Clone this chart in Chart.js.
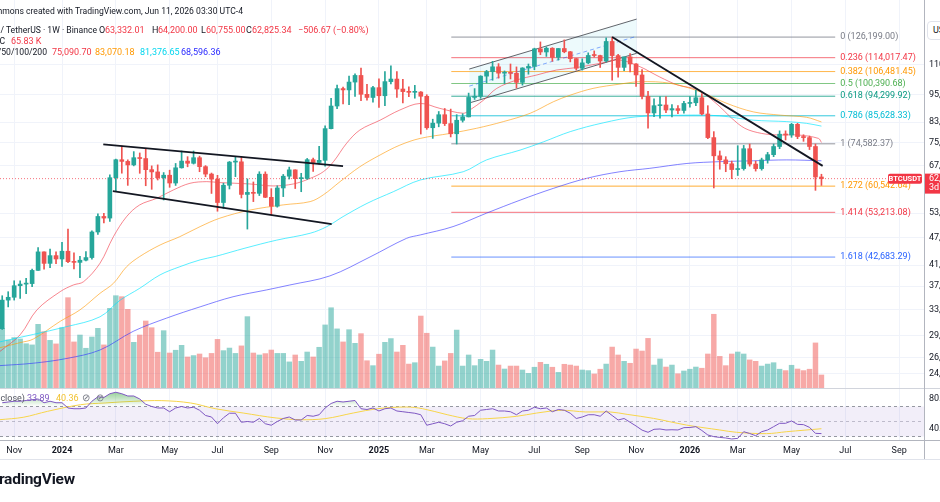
<!DOCTYPE html>
<html lang="en">
<head>
<meta charset="utf-8">
<title>BTCUSDT 1W</title>
<script src="https://cdn.jsdelivr.net/npm/chart.js@4.4.1/dist/chart.umd.min.js"></script>
<style>
html, body { margin: 0; padding: 0; background: #ffffff; }
#page { position: relative; width: 940px; height: 502px; overflow: hidden; font-family: Roboto, "Noto Sans", sans-serif; }
canvas { position: absolute; left: 0; }
#priceChart { top: 0; }
#rsiChart { top: 388px; }
.t { position: absolute; font-size: 9px; line-height: 11px; white-space: nowrap; color: #131722; }
.r { text-align: right; font-size: 8.6px; }
.red { color: #f23645; }
.logo { position: absolute; left: -10px; top: 470px; font-size: 15.5px; font-weight: bold; color: #131722; letter-spacing: -0.2px; }
.cur { position: absolute; left: 927px; top: 21px; width: 30px; height: 17px; border: 1px solid #e0e3eb; border-radius: 4px; font-size: 9px; line-height: 17px; padding-left: 5px; color: #131722; background: #fff; }
</style>
</head>
<body>
<div id="page">
  <canvas id="priceChart" width="940" height="388"></canvas>
  <canvas id="rsiChart" width="940" height="72"></canvas>

  <div class="t r" style="right:697px;top:6px">Commons created with TradingView.com, Jun 11, 2026 03:30 UTC-4</div>

  <div class="t r" style="right:843px;top:25px">Bitcoin / TetherUS · 1W · Binance</div>
  <div class="t" style="left:99px;top:25px">O</div><div class="t red" style="left:105px;top:25px">63,332.01</div>
  <div class="t" style="left:152px;top:25px">H</div><div class="t red" style="left:158px;top:25px">64,200.00</div>
  <div class="t" style="left:201px;top:25px">L</div><div class="t red" style="left:206px;top:25px">60,755.00</div>
  <div class="t" style="left:246px;top:25px">C</div><div class="t red" style="left:252px;top:25px">62,825.34</div>
  <div class="t red" style="left:298px;top:25px">−506.67 (−0.80%)</div>

  <div class="t r" style="right:935px;top:36px">BTC</div><div class="t red" style="left:11px;top:36px">65.83 K</div>

  <div class="t r" style="right:893px;top:47px">EMA 20/50/100/200</div>
  <div class="t" style="left:52px;top:47px;color:#f23645">75,090.70</div>
  <div class="t" style="left:95px;top:47px;color:#ff9800">83,070.18</div>
  <div class="t" style="left:140px;top:47px;color:#00d5ee">81,376.65</div>
  <div class="t" style="left:181px;top:47px;color:#2a2aff">68,596.36</div>

  <div class="cur">USDT</div>

  <div class="t r" style="right:915px;top:393px;color:#50535e;font-size:9px">RSI 14 close)</div>
  <div class="t" style="left:27px;top:393px;color:#7e57c2">33.89</div>
  <div class="t" style="left:56px;top:393px;color:#f2c230">40.36</div>
  <div class="t" style="left:82px;top:392px;color:#787b86;font-size:10px">⊘</div>
  <div class="t" style="left:96px;top:392px;color:#787b86;font-size:10px">⊘</div>

  <div class="logo">TradingView</div>
</div>

<script>
/* =========================
   DATA  (weekly BTC/USDT, Binance)
   week numbers count from the week of Jan 1, 2024
========================= */

const firstWeek = -10;   // week of Oct 23, 2023

const opens = [
    29992, 34525, 35011, 37065, 37360, 37455, 39970, 43790, 41375, 42990,
    42285, 43930, 41730, 41580, 42030, 42580, 48300, 52140, 51730, 63110,
    68960, 68390, 67210, 69650, 69360, 65660, 64940, 63100, 63890, 61480,
    66270, 68500, 67760, 69650, 66650, 64250, 62680, 55850, 60800, 68160,
    68250, 58120, 58710, 58430, 64220, 57300, 54840, 60000, 63580, 65600,
    62820, 62870, 68970, 68020, 68750, 80370, 89850, 97900, 97280, 101110,
    104460, 95190, 93720, 98360, 94520, 101330, 102620, 97700, 96460, 96120,
    96250, 94270, 80730, 82580, 86080, 82390, 78370, 83760, 85170, 93740,
    94280, 104100, 106450, 109000, 105640, 105730, 105560, 100960, 108370, 109200,
    119090, 117270, 119450, 114200, 119290, 117400, 113490, 108240, 111140, 115270,
    115230, 112160, 123500, 115200, 108700, 114500, 110550, 104720, 94260, 86830,
    90000, 90300, 88100, 88700, 87900, 91000, 91300, 93600, 86400, 76900,
    70300, 68900, 67600, 65700, 66000, 72800, 67500, 66000, 68900, 70700,
    73600, 78200, 77900, 82100, 77300, 76900, 73600, 63332.01
];

const highs = [
    35280, 35985, 37980, 37980, 38450, 40250, 44700, 43800, 44400, 43800,
    45900, 48970, 43580, 42850, 43880, 48600, 52820, 52980, 64000, 69170,
    73780, 68920, 71770, 71300, 72800, 66900, 67230, 64730, 65500, 67700,
    71980, 70000, 71980, 70200, 66990, 64580, 63860, 61420, 68370, 70000,
    70080, 62750, 61800, 65000, 64960, 59800, 60650, 64130, 66500, 65620,
    64500, 69400, 69520, 73620, 81500, 93270, 99590, 98700, 104090, 105250,
    108350, 99960, 98980, 102720, 106420, 109590, 106460, 102500, 98820, 99480,
    96500, 95000, 84200, 87450, 88770, 88500, 86100, 86500, 95760, 97900,
    104320, 107100, 111980, 110720, 106800, 110530, 108950, 108530, 110530, 119490,
    123220, 120250, 119800, 119300, 124470, 117600, 113600, 113380, 116770, 117900,
    115450, 125700, 126200, 115970, 114000, 116400, 110800, 107500, 96600, 93100,
    94100, 94100, 90500, 90000, 91900, 94100, 97200, 95500, 90000, 79200,
    72000, 70000, 68500, 73900, 74000, 74500, 68500, 69500, 71500, 74500,
    79500, 79500, 82500, 82500, 78000, 77500, 74500, 64200
];

const lows = [
    29880, 33390, 34530, 34800, 35630, 36870, 39970, 40220, 40525, 41300,
    40750, 41500, 40280, 38550, 41880, 42250, 47700, 50520, 50900, 59000,
    64530, 60770, 66900, 64500, 60660, 59600, 62400, 56550, 60190, 60750,
    66150, 66600, 67500, 65000, 63400, 58400, 53500, 54260, 59700, 63450,
    57120, 49000, 56100, 57800, 57200, 52550, 54580, 57500, 62700, 59830,
    58900, 62600, 65060, 67480, 66840, 80220, 88700, 90790, 90500, 94150,
    92230, 92500, 91530, 89260, 89950, 100150, 93700, 91230, 94090, 93380,
    78260, 80100, 76600, 81100, 81600, 77150, 74500, 83000, 85140, 92800,
    93330, 100720, 102000, 103070, 100370, 102660, 98200, 99600, 105100, 107450,
    115740, 114720, 112000, 112650, 116800, 111680, 107250, 107270, 110620, 114380,
    108650, 111570, 102000, 103530, 106900, 106300, 98950, 93000, 80600, 85300,
    84600, 87000, 85200, 86500, 86700, 89300, 90000, 86000, 76500, 60000,
    65800, 65000, 62800, 63800, 65500, 66800, 65200, 65500, 67800, 70000,
    72800, 76000, 77000, 76500, 75500, 72500, 59300, 60755
];

const closes = [
    34525, 35011, 37065, 37360, 37455, 39970, 43790, 41375, 42990, 42285,
    43930, 41730, 41580, 42030, 42580, 48300, 52140, 51730, 63110, 68960,
    68390, 67210, 69650, 69360, 65660, 64940, 63100, 63890, 61480, 66270,
    68500, 67760, 69650, 66650, 64250, 62680, 55850, 60800, 68160, 68250,
    58120, 58710, 58430, 64220, 57300, 54840, 60000, 63580, 65600, 62820,
    62870, 68970, 68020, 68750, 80370, 89850, 97900, 97280, 101110, 104460,
    95190, 93720, 98360, 94520, 101330, 102620, 97700, 96460, 96120, 96250,
    94270, 80730, 82580, 86080, 82390, 78370, 83760, 85170, 93740, 94280,
    104100, 106450, 109000, 105640, 105730, 105560, 100960, 108370, 109200, 119090,
    117270, 119450, 114200, 119290, 117400, 113490, 108240, 111140, 115270, 115230,
    112160, 123500, 115200, 108700, 114500, 110550, 104720, 94260, 86830, 90000,
    90300, 88100, 88700, 87900, 91000, 91300, 93600, 86400, 76900, 70300,
    68900, 67600, 65700, 66000, 72800, 67500, 66000, 68900, 70700, 73600,
    78200, 77900, 82100, 77300, 76900, 73600, 63332.01, 62825.34
];

// volume, thousands of BTC
const volumesK = [
    302, 243, 255, 248, 224, 218, 322, 285, 241, 223,
    305, 457, 233, 268, 201, 258, 302, 218, 403, 467,
    462, 398, 231, 268, 339, 305, 181, 290, 177, 191,
    216, 157, 164, 172, 153, 175, 246, 189, 202, 175,
    213, 361, 177, 167, 174, 192, 175, 175, 132, 167,
    135, 182, 157, 206, 319, 406, 299, 233, 295, 226,
    275, 138, 113, 171, 231, 250, 182, 216, 121, 128,
    364, 277, 207, 111, 137, 175, 293, 111, 167, 113,
    145, 135, 192, 116, 96, 111, 111, 91, 74, 105,
    130, 120, 105, 79, 120, 116, 111, 91, 88, 71,
    95, 121, 207, 167, 135, 125, 197, 187, 251, 116,
    147, 106, 116, 72, 86, 95, 106, 100, 172, 373,
    160, 113, 172, 182, 172, 142, 135, 111, 121, 128,
    95, 88, 115, 96, 88, 95, 228, 65.83
];

// RSI(14), one value per week
const rsiValues = [
    75, 76, 77, 77, 78, 79, 80, 75, 77, 75,
    75, 68, 67, 67, 68, 77, 83, 82, 87, 89,
    87, 84, 84, 80, 73, 70, 68, 68, 63, 68,
    70, 68, 69, 65, 58, 56, 47, 55, 61, 61,
    49, 50, 49, 54, 47, 45, 50, 54, 56, 52,
    52, 58, 57, 59, 68, 74, 77, 76, 77, 78,
    67, 66, 68, 64, 67, 68, 64, 63, 62, 61,
    59, 45, 47, 49, 47, 44, 49, 51, 57, 58,
    65, 66, 67, 64, 64, 63, 59, 64, 65, 69,
    67, 68, 63, 66, 65, 61, 54, 56, 59, 59,
    57, 64, 58, 52, 54, 49, 44, 38.5, 35.6, 39.6,
    40, 38.7, 39, 38.7, 41.8, 42, 43.1, 38, 32, 29.8,
    28.8, 28, 26.7, 27.5, 36.4, 34, 31.1, 36.4, 38.7, 43.1,
    47.6, 47.6, 50.7, 46.2, 45.8, 42.2, 34.2, 33.89
];

// RSI-based MA, read at these weeks
const rsiMaWeeks  = [-10.4, -6.5, -2.4, 3.1, 7.2, 11.9, 16.7, 21.5, 25.6, 30.3, 35.8, 39.9, 44.0, 48.7, 52.8, 57.6, 60.3, 64.4, 67.8, 71.2, 76.0, 79.4, 83.5, 87.6, 91.7, 94.5, 98.9, 104.4, 110.0, 112.8, 117.8, 121.2, 127];
const rsiMaValues = [52.4, 55.6, 63.6, 72.4, 74.7, 76.9, 77.8, 74.7, 67.1, 61.3, 54.7, 52.4, 53.8, 61.3, 67.1, 69.3, 67.1, 59.1, 53.8, 53.8, 56.9, 61.3, 64.9, 62.7, 62.7, 59.5, 54.2, 45.3, 38.7, 35.6, 33.8, 36.4, 40.36];

// EMA lines (thousands USDT), read at these weeks
const ema20Weeks  = [-10.4, -7.0, -4.2, -0.3, 1.9, 3.6, 6.35, 8.6, 10.8, 13.0, 15.8, 18.6, 21.4, 24.2, 26.4, 31.4, 35.3, 38.7, 41.5, 43.7, 45.4, 47.6, 49.8, 53.2, 56.5, 59.9, 63.2, 67.1, 68.2, 70.5, 72.7, 76.0, 79.4, 82.7, 86.1, 90.0, 93.3, 96.7, 98.3, 100.0, 103.0, 106.4, 109.7, 112.0, 114.2, 117.0, 119.8, 123.1, 126.5, 127];
const ema20Values = [26.8, 29.1, 32.9, 36.0, 37.2, 37.8, 41.4, 47.2, 52.1, 55.2, 57.0, 59.4, 61.4, 61.9, 61.6, 61.2, 60.6, 61.2, 62.9, 65.0, 68.3, 74.8, 79.8, 83.8, 88.1, 91.0, 88.8, 86.7, 88.1, 92.5, 98.0, 102.1, 104.7, 107.3, 108.6, 110.9, 112.7, 109.0, 106.4, 103.6, 99.6, 97.2, 90.3, 84.6, 80.5, 78.5, 77.9, 77.9, 76.6, 75.09];

const ema50Weeks  = [-10.4, -7.0, -4.8, -0.3, 3.0, 6.35, 8.6, 10.8, 13.0, 16.4, 19.7, 23.1, 26.4, 31.4, 37.0, 41.5, 43.7, 46.5, 49.8, 53.2, 56.5, 59.9, 64.9, 69.3, 73.8, 78.3, 82.2, 85.0, 88.8, 93.3, 96.7, 101.7, 106.7, 111.2, 115.6, 120.1, 124.5, 127];
const ema50Values = [27.3, 28.0, 28.5, 31.1, 32.9, 35.7, 37.5, 40.7, 42.8, 45.3, 47.2, 49.6, 51.7, 53.8, 55.2, 56.1, 58.0, 61.9, 66.6, 70.6, 74.1, 76.6, 78.5, 80.5, 83.2, 86.7, 91.8, 94.8, 98.0, 100.1, 101.3, 100.5, 96.4, 91.0, 87.3, 85.9, 85.0, 83.07];

const ema100Weeks  = [-10.4, 0.8, 6.35, 9.7, 13.0, 16.4, 19.7, 23.1, 25.6, 30.6, 35.9, 41.5, 44.3, 47.0, 51.0, 55.4, 59.9, 67.1, 71.0, 76.6, 80.5, 85.0, 90.5, 96.1, 104.5, 110.0, 115.6, 121.2, 124.5, 127];
const ema100Values = [28.1, 30.3, 31.8, 34.5, 36.6, 39.1, 40.7, 42.1, 42.8, 44.6, 46.4, 48.0, 49.6, 52.1, 55.6, 58.9, 62.4, 65.0, 68.9, 72.3, 75.3, 79.2, 82.7, 85.2, 85.9, 85.6, 83.8, 83.2, 82.5, 81.38];

const ema200Weeks  = [-10.4, -4.8, 0.8, 6.35, 11.9, 17.5, 23.1, 28.6, 34.2, 38.1, 44.8, 51.5, 57.6, 59.9, 65.4, 71.0, 76.6, 82.2, 87.7, 93.3, 98.3, 104.5, 110.0, 115.6, 121.2, 127];
const ema200Values = [25.0, 25.3, 25.9, 27.0, 29.6, 31.6, 33.4, 35.1, 36.3, 37.2, 38.9, 42.7, 46.8, 47.6, 49.6, 53.0, 56.5, 59.9, 62.9, 65.0, 66.1, 67.7, 68.3, 68.6, 68.9, 68.6];

// Fibonacci retracement / extension
const fibRatios = ["0", "0.236", "0.382", "0.5", "0.618", "0.786", "1", "1.272", "1.414", "1.618"];
const fibPrices = [126199.00, 114017.47, 106481.45, 100390.68, 94299.92, 85628.33, 74582.37, 60542.64, 53213.08, 42683.29];
const fibWeeks  = [65.1, 129.3];

// drawn trend lines: [week, price] pairs
const triangleTop    = { weeks: [6.9, 47.0],   prices: [74400, 66800] };
const triangleBottom = { weeks: [8.5, 45.1],   prices: [59100, 50200] };
const downTrend      = { weeks: [92.0, 127.2], prices: [126300, 66900] };
const channelTop     = { weeks: [68.1, 96.1],  prices: [107800, 137900] };
const channelBottom  = { weeks: [68.1, 96.1],  prices: [91200, 116500] };
const channelMiddle  = { weeks: [68.1, 96.1],  prices: [99100, 126700] };

// axes
const tickWeeks  = [-8, 0, 9, 18, 26, 35, 44, 53, 61, 70, 79, 87, 96, 105, 113, 122, 131, 140];
const tickLabels = ["Nov", "2024", "Mar", "May", "Jul", "Sep", "Nov", "2025", "Mar", "May", "Jul", "Sep", "Nov", "2026", "Mar", "May", "Jul", "Sep"];
const yearWeeks  = [0, 53, 105];
const priceTicks = [24000, 26000, 29000, 33000, 37000, 41000, 47000, 53000, 67000, 75000, 83000, 95000, 110000];
const rsiTicks   = [40, 80];

/* =========================
   SETTINGS
========================= */

const FONT = 'Roboto, "Noto Sans", sans-serif';
const UP = "#26a69a";
const DOWN = "#ef5350";
const UP_VOL = "rgba(38,166,154,0.5)";
const DOWN_VOL = "rgba(239,83,80,0.5)";

const viewStart = -10.37;
const viewEnd = 144.15;
const priceMin = 22390;
const priceMax = 151500;
const volumeMax = 1963;
const rsiMin = 25.33;
const rsiMax = 93.33;

Chart.defaults.font.family = FONT;
Chart.defaults.font.size = 9;
Chart.defaults.color = "#131722";

const weeks = opens.map((o, k) => firstWeek + k);
const isUp = closes.map((c, k) => c >= opens[k]);
const lastClose = closes[closes.length - 1];

function money(v) {
    return v.toLocaleString("en-US", { minimumFractionDigits: 2, maximumFractionDigits: 2 });
}

function pairLine(obj, color, width, dash, order) {
    return {
        type: "line",
        data: obj.weeks.map((w, k) => ({ x: w, y: obj.prices[k] })),
        borderColor: color,
        borderWidth: width,
        borderDash: dash || [],
        pointRadius: 0,
        fill: false,
        order: order
    };
}

function emaLine(ws, vs, color) {
    return {
        type: "line",
        data: ws.map((w, k) => ({ x: w, y: vs[k] * 1000 })),
        borderColor: color,
        borderWidth: 1,
        pointRadius: 0,
        tension: 0.35,
        fill: false,
        order: 7
    };
}

function zeroPad(scale) {
    scale.paddingTop = 0;
    scale.paddingBottom = 0;
    scale.paddingLeft = 0;
    scale.paddingRight = 0;
}

/* =========================
   PRICE PANE
========================= */

const fibColors = ["#787b86", "#f23645", "#ff9800", "#4caf50", "#089981", "#00bcd4", "#787b86", "#ff9800", "#f23645", "#2962ff"];
const fibLineColors = ["rgba(120,123,134,0.8)", "rgba(242,54,69,0.7)", "rgba(255,152,0,0.7)", "rgba(76,175,80,0.7)",
    "rgba(8,153,129,0.8)", "rgba(0,188,212,0.8)", "rgba(120,123,134,0.8)", "rgba(255,152,0,0.8)",
    "rgba(242,54,69,0.7)", "rgba(41,98,255,0.7)"];

const priceDatasets = [];

// volume
priceDatasets.push({
    type: "bar",
    yAxisID: "yv",
    data: weeks.map((w, k) => ({ x: w, y: volumesK[k] })),
    backgroundColor: isUp.map(u => u ? UP_VOL : DOWN_VOL),
    barThickness: 4.8,
    grouped: false,
    order: 10
});

// fib lines
fibPrices.forEach((p, k) => {
    priceDatasets.push({
        type: "line",
        data: [{ x: fibWeeks[0], y: p }, { x: fibWeeks[1], y: p }],
        borderColor: fibLineColors[k],
        borderWidth: 1,
        pointRadius: 0,
        fill: false,
        order: 9
    });
});

// parallel channel (top, then bottom filled to top)
priceDatasets.push(pairLine(channelTop, "rgba(60,63,70,0.8)", 1, null, 8));
const chBottom = pairLine(channelBottom, "rgba(60,63,70,0.8)", 1, null, 8);
chBottom.fill = "-1";
chBottom.backgroundColor = "rgba(0,188,212,0.07)";
priceDatasets.push(chBottom);
priceDatasets.push(pairLine(channelMiddle, "rgba(41,98,255,0.55)", 1, [4, 3], 8));

// EMAs
priceDatasets.push(emaLine(ema200Weeks, ema200Values, "rgba(48,48,255,0.6)"));
priceDatasets.push(emaLine(ema100Weeks, ema100Values, "rgba(0,229,255,0.65)"));
priceDatasets.push(emaLine(ema50Weeks, ema50Values, "rgba(255,152,0,0.6)"));
priceDatasets.push(emaLine(ema20Weeks, ema20Values, "rgba(242,54,69,0.6)"));

// last price line
priceDatasets.push({
    type: "line",
    data: [{ x: viewStart, y: lastClose }, { x: viewEnd, y: lastClose }],
    borderColor: "rgba(242,54,69,0.7)",
    borderWidth: 1,
    borderDash: [1, 2],
    pointRadius: 0,
    fill: false,
    order: 6
});

// candles
priceDatasets.push({
    type: "bar",
    data: weeks.map((w, k) => ({ x: w, y: [lows[k], highs[k]] })),
    backgroundColor: isUp.map(u => u ? UP : DOWN),
    barThickness: 1,
    grouped: false,
    order: 3
});
priceDatasets.push({
    type: "bar",
    data: weeks.map((w, k) => ({ x: w, y: [opens[k], closes[k]] })),
    backgroundColor: isUp.map(u => u ? UP : DOWN),
    barThickness: 4,
    minBarLength: 1,
    grouped: false,
    order: 2
});

// trend lines
priceDatasets.push(pairLine(triangleTop, "#131722", 1.8, null, 1));
priceDatasets.push(pairLine(triangleBottom, "#131722", 1.8, null, 1));
priceDatasets.push(pairLine(downTrend, "#131722", 1.8, null, 1));

const priceLabels = {
    id: "priceLabels",
    afterDraw(chart) {
        const { ctx, scales } = chart;
        const x = scales.x;
        const y = scales.y;

        ctx.save();
        ctx.font = "9px " + FONT;
        ctx.textBaseline = "middle";
        ctx.textAlign = "left";

        const lx = x.getPixelForValue(fibWeeks[1]) + 5;
        fibPrices.forEach((p, k) => {
            ctx.fillStyle = fibColors[k];
            ctx.fillText(fibRatios[k] + " (" + money(p) + ")", lx, y.getPixelForValue(p));
        });

        const yc = y.getPixelForValue(lastClose);

        // symbol tag
        ctx.fillStyle = "#f23645";
        ctx.beginPath();
        if (ctx.roundRect) ctx.roundRect(888, yc - 5, 34, 10, 2); else ctx.rect(888, yc - 5, 34, 10);
        ctx.fill();
        ctx.fillStyle = "#ffffff";
        ctx.font = "bold 7.5px " + FONT;
        ctx.textAlign = "center";
        ctx.fillText("BTCUSDT", 905, yc + 0.5);

        // price axis tag
        ctx.fillStyle = "#f23645";
        ctx.fillRect(925, yc - 5, 20, 20);
        ctx.fillStyle = "#ffffff";
        ctx.font = "9px " + FONT;
        ctx.textAlign = "left";
        ctx.fillText(money(lastClose), 929, yc);
        ctx.fillText("3d 20h", 929, yc + 9.5);
        ctx.restore();
    }
};

new Chart(document.getElementById("priceChart"), {
    type: "bar",
    data: { datasets: priceDatasets },
    options: {
        responsive: false,
        animation: false,
        events: [],
        layout: { padding: 0 },
        plugins: { legend: { display: false }, tooltip: { enabled: false } },
        scales: {
            x: {
                type: "linear",
                min: viewStart,
                max: viewEnd,
                bounds: "data",
                offset: false,
                grid: { color: "#f0f3fa", drawTicks: false, offset: false },
                border: { display: false },
                ticks: { display: false },
                afterBuildTicks: s => { s.ticks = tickWeeks.map(v => ({ value: v })); },
                afterFit: s => { s.height = 0; zeroPad(s); }
            },
            y: {
                type: "logarithmic",
                position: "right",
                min: priceMin,
                max: priceMax,
                bounds: "data",
                grid: { color: "#f0f3fa", drawTicks: false },
                border: { color: "#b2b5be" },
                ticks: {
                    autoSkip: false,
                    padding: 5,
                    color: "#131722",
                    font: { size: 9, family: FONT },
                    callback: v => money(v)
                },
                afterBuildTicks: s => { s.ticks = priceTicks.map(v => ({ value: v })); },
                afterFit: s => { s.width = 16; zeroPad(s); }
            },
            yv: {
                type: "linear",
                display: false,
                min: 0,
                max: volumeMax
            }
        }
    },
    plugins: [priceLabels]
});

/* =========================
   RSI PANE
========================= */

const paneLines = {
    id: "paneLines",
    afterDraw(chart) {
        const { ctx, chartArea, scales } = chart;
        ctx.save();
        ctx.lineWidth = 1;
        ctx.strokeStyle = "#d1d4dc";
        ctx.beginPath();
        ctx.moveTo(0, 0.5); ctx.lineTo(940, 0.5);
        ctx.stroke();
        ctx.strokeStyle = "#b2b5be";
        ctx.beginPath();
        ctx.moveTo(0, chartArea.bottom + 0.5); ctx.lineTo(940, chartArea.bottom + 0.5);
        ctx.moveTo(chartArea.right + 0.5, 0); ctx.lineTo(chartArea.right + 0.5, 72);
        ctx.stroke();
        ctx.strokeStyle = "#e0e3eb";
        ctx.beginPath();
        ctx.moveTo(0, 71.5); ctx.lineTo(940, 71.5);
        ctx.stroke();

        // RSI scale labels
        ctx.fillStyle = "#131722";
        ctx.font = "9px " + FONT;
        ctx.textAlign = "left";
        ctx.textBaseline = "middle";
        rsiTicks.forEach(v => {
            ctx.fillText(money(v), chartArea.right + 5, scales.y.getPixelForValue(v));
        });
        ctx.restore();
    }
};

function flatLine(value, color, dash, order) {
    return {
        type: "line",
        data: [{ x: viewStart, y: value }, { x: viewEnd, y: value }],
        borderColor: color,
        borderWidth: 1,
        borderDash: dash,
        pointRadius: 0,
        fill: false,
        order: order
    };
}

const band70 = flatLine(70, "#9598a1", [3, 3], 4);
const band30 = flatLine(30, "#9598a1", [3, 3], 4);
band30.fill = "-1";
band30.backgroundColor = "rgba(126,87,194,0.1)";
const mid50 = flatLine(50, "rgba(149,152,161,0.55)", [3, 3], 4);

new Chart(document.getElementById("rsiChart"), {
    type: "line",
    data: {
        datasets: [
            band70,
            band30,
            mid50,
            {
                data: rsiMaWeeks.map((w, k) => ({ x: w, y: rsiMaValues[k] })),
                borderColor: "#f7d54a",
                borderWidth: 1,
                pointRadius: 0,
                tension: 0.35,
                fill: false,
                order: 1
            },
            {
                data: weeks.map((w, k) => ({ x: w, y: rsiValues[k] })),
                borderColor: "#7e57c2",
                borderWidth: 1,
                pointRadius: 0,
                tension: 0,
                fill: { target: { value: 70 }, below: "rgba(0,0,0,0)" },
                backgroundColor: c => {
                    const chart = c.chart;
                    if (!chart.chartArea || !chart.scales.y) return "rgba(0,0,0,0)";
                    const ys = chart.scales.y;
                    const g = chart.ctx.createLinearGradient(0, ys.getPixelForValue(90), 0, ys.getPixelForValue(70));
                    g.addColorStop(0, "rgba(76,175,80,0.6)");
                    g.addColorStop(1, "rgba(76,175,80,0)");
                    return g;
                },
                order: 0
            }
        ]
    },
    options: {
        responsive: false,
        animation: false,
        events: [],
        layout: { padding: { top: 1, left: 0, right: 0, bottom: 0 } },
        plugins: { legend: { display: false }, tooltip: { enabled: false } },
        scales: {
            x: {
                type: "linear",
                min: viewStart,
                max: viewEnd,
                bounds: "data",
                offset: false,
                grid: { color: "#f0f3fa", drawTicks: false },
                border: { display: false },
                ticks: {
                    autoSkip: false,
                    maxRotation: 0,
                    padding: 5,
                    color: "#131722",
                    font: c => ({
                        size: 9,
                        family: FONT,
                        weight: (c.tick && yearWeeks.includes(c.tick.value)) ? "bold" : "normal"
                    }),
                    callback: v => {
                        const k = tickWeeks.indexOf(v);
                        return k >= 0 ? tickLabels[k] : "";
                    }
                },
                afterBuildTicks: s => { s.ticks = tickWeeks.map(v => ({ value: v })); },
                afterFit: s => { s.height = 20; zeroPad(s); }
            },
            y: {
                type: "linear",
                position: "right",
                min: rsiMin,
                max: rsiMax,
                bounds: "data",
                grid: { display: false },
                border: { color: "#b2b5be" },
                ticks: { display: false },
                afterBuildTicks: s => { s.ticks = rsiTicks.map(v => ({ value: v })); },
                afterFit: s => { s.width = 16; zeroPad(s); }
            }
        }
    },
    plugins: [paneLines]
});
</script>
</body>
</html>
